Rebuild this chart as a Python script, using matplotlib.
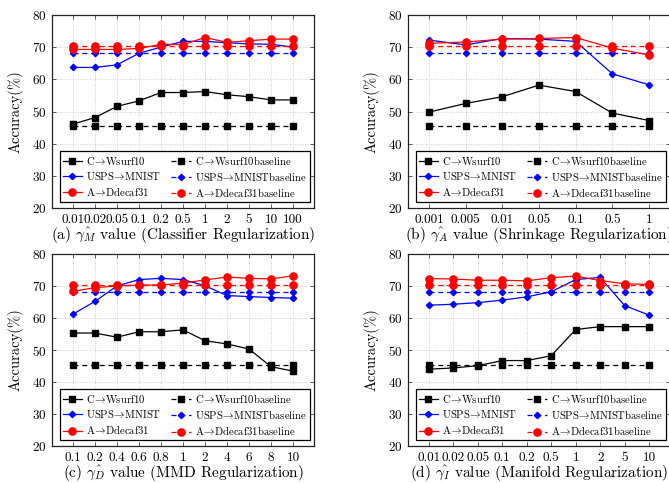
import matplotlib
matplotlib.use("Agg")
import matplotlib.pyplot as plt

plt.rcParams['font.family'] = ['cmr10', 'DejaVu Serif']
plt.rcParams['mathtext.fontset'] = 'cm'
plt.rcParams['axes.formatter.use_mathtext'] = True
plt.rcParams['axes.unicode_minus'] = False

# ---- data ----
ticks_a = ['0.01', '0.02', '0.05', '0.1', '0.2', '0.5', '1', '2', '5', '10', '100']
cw_a = [46.1, 48.1, 51.6, 53.3, 55.9, 55.9, 56.2, 55.2, 54.6, 53.6, 53.6]
um_a = [63.7, 63.7, 64.5, 68.1, 70.0, 71.8, 71.8, 71.4, 71.0, 70.9, 70.0]
ad_a = [69.3, 69.3, 69.3, 69.6, 70.9, 70.8, 73.0, 71.5, 72.0, 72.5, 72.5]

ticks_b = ['0.001', '0.005', '0.01', '0.05', '0.1', '0.5', '1']
cw_b = [49.8, 52.5, 54.6, 58.2, 56.2, 49.5, 47.2]
um_b = [72.2, 70.7, 72.7, 72.5, 71.8, 61.7, 58.3]
ad_b = [71.2, 71.6, 72.5, 72.7, 73.0, 69.7, 67.6]

ticks_c = ['0.1', '0.2', '0.4', '0.6', '0.8', '1', '2', '4', '6', '8', '10']
cw_c = [55.3, 55.3, 54.0, 55.7, 55.7, 56.3, 52.9, 51.9, 50.3, 44.8, 43.4]
um_c = [61.2, 65.2, 70.0, 72.0, 72.4, 72.0, 70.1, 67.0, 66.7, 66.4, 66.2]
ad_c = [68.3, 69.5, 70.0, 70.3, 70.3, 70.9, 71.9, 72.8, 72.4, 72.2, 73.2]

ticks_d = ['0.01', '0.02', '0.05', '0.1', '0.2', '0.5', '1', '2', '5', '10']
cw_d = [44.0, 44.4, 45.1, 46.7, 46.7, 48.2, 56.4, 57.3, 57.3, 57.3]
um_d = [64.0, 64.3, 64.8, 65.6, 66.6, 68.2, 72.0, 72.7, 63.9, 60.9]
ad_d = [72.3, 72.2, 71.8, 71.8, 71.6, 72.6, 73.1, 71.7, 70.7, 70.5]

base_cw = 45.4
base_um = 68.2
base_ad = 70.3

captions = [r'(a) $\hat{\gamma_M}$ value (Classifier Regularization)',
            r'(b) $\hat{\gamma_A}$ value (Shrinkage Regularization)',
            r'(c) $\hat{\gamma_D}$ value (MMD Regularization)',
            r'(d) $\hat{\gamma_I}$ value (Manifold Regularization)']

arrow = r'$\!\rightarrow\!$'
labels = ['C' + arrow + 'Wsurf10', 'C' + arrow + 'Wsurf10baseline',
          'USPS' + arrow + 'MNIST', 'USPS' + arrow + 'MNISTbaseline',
          'A' + arrow + 'Ddecaf31', 'A' + arrow + 'Ddecaf31baseline']

panels = [(ticks_a, cw_a, um_a, ad_a), (ticks_b, cw_b, um_b, ad_b),
          (ticks_c, cw_c, um_c, ad_c), (ticks_d, cw_d, um_d, ad_d)]

W, H = 669, 483
fig = plt.figure(figsize=(W / 100, H / 100), dpi=100)

boxes = [(52, 15, 262, 193), (408, 15, 262, 193),
         (52, 254, 262, 192), (408, 254, 262, 192)]

for i, ((tk, cw, um, ad), (x0, y0, w, h)) in enumerate(zip(panels, boxes)):
    ax = fig.add_axes([x0 / W, 1 - (y0 + h) / H, w / W, h / H])
    n = len(tk)
    xs = list(range(n))
    ms_sq, ms_di, ms_ci = 4.5, 3.2, 5.2
    h1, = ax.plot(xs, cw, '-', color='black', lw=0.9, marker='s', ms=ms_sq, zorder=3)
    h2, = ax.plot(xs, [base_cw] * n, '--', color='black', lw=0.9, marker='s', ms=ms_sq, dashes=(4, 3), zorder=3)
    h3, = ax.plot(xs, um, '-', color='#0000ff', lw=0.9, marker='D', ms=ms_di, zorder=3)
    h4, = ax.plot(xs, [base_um] * n, '--', color='#0000ff', lw=0.9, marker='D', ms=ms_di, dashes=(4, 3), zorder=3)
    h5, = ax.plot(xs, ad, '-', color='#ff0000', lw=0.9, marker='o', ms=ms_ci, zorder=3)
    h6, = ax.plot(xs, [base_ad] * n, '--', color='#ff0000', lw=0.9, marker='o', ms=ms_ci, dashes=(4, 3), zorder=3)

    p = (n - 1) * 0.08 / 0.84
    ax.set_xlim(-p, n - 1 + p)
    ax.set_ylim(20, 80)
    ax.set_yticks([20, 30, 40, 50, 60, 70, 80])
    ax.set_xticks(xs)
    ax.set_xticklabels(tk)
    ax.tick_params(direction='in', top=True, right=True, length=3, width=0.6,
                   color='#444444', labelsize=9.5, pad=4)
    ax.grid(True, linestyle=(0, (1, 2)), color='#bbbbbb', lw=0.6)
    for s in ax.spines.values():
        s.set_linewidth(0.9)
        s.set_color('#222222')
    ax.set_ylabel('Accuracy(%)', fontsize=10.5, labelpad=6)
    ax.set_xlabel(captions[i], fontsize=11, labelpad=0)

    handles = [h1, h3, h5, h2, h4, h6]
    labs = [labels[0], labels[2], labels[4], labels[1], labels[3], labels[5]]
    leg = ax.legend(handles, labs, ncol=2, loc='lower left',
                    bbox_to_anchor=(0.03, 0.03, 0.955, 0.235), mode='expand',
                    fontsize=7.7, frameon=True, fancybox=False, framealpha=1,
                    edgecolor='black', handlelength=1.8, handletextpad=0.4,
                    borderpad=0.28, labelspacing=0.3, columnspacing=1.0,
                    borderaxespad=0)
    leg.get_frame().set_linewidth(0.9)
    leg.set_zorder(5)

fig.savefig('out.png', dpi=100)
